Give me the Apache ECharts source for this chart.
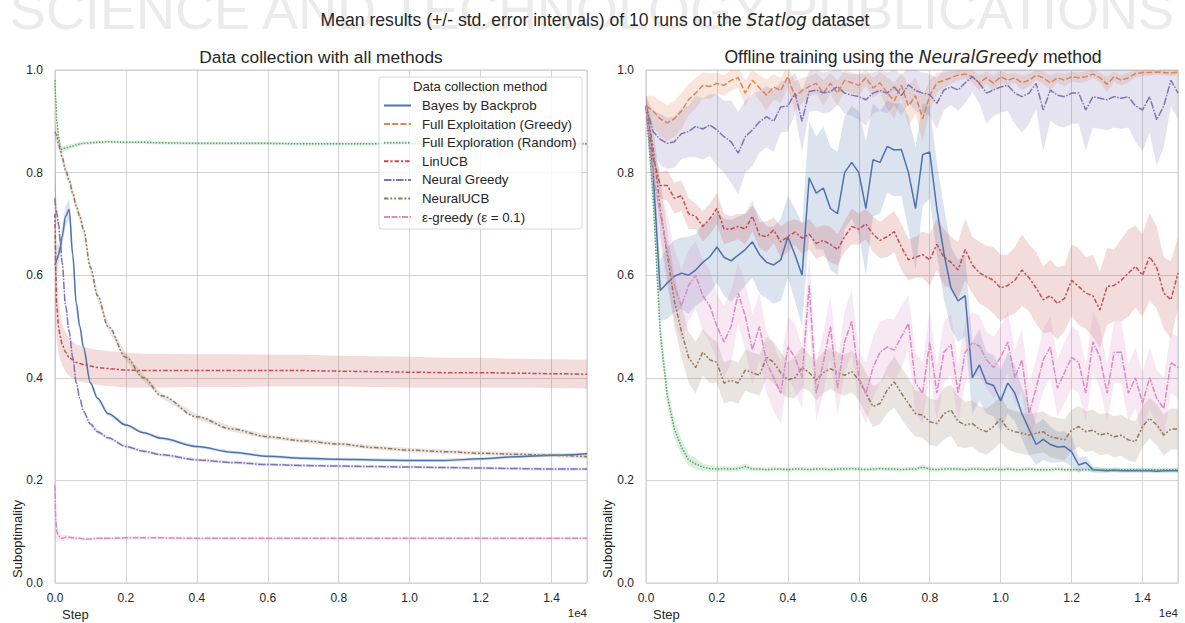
<!DOCTYPE html>
<html>
<head>
<meta charset="utf-8">
<title>Statlog suboptimality</title>
<script src="https://cdn.jsdelivr.net/npm/echarts@6/dist/echarts.min.js"></script>
<style>
  html, body { margin: 0; padding: 0; background: #ffffff; }
  #chart { width: 1185px; height: 623px; }
</style>
</head>
<body>
<div id="chart"></div>
<script>
// ---------- labels ----------
const methods = [
  'Bayes by Backprob',
  'Full Exploitation (Greedy)',
  'Full Exploration (Random)',
  'LinUCB',
  'Neural Greedy',
  'NeuralUCB',
  'ε-greedy (ε = 0.1)'
];
const yTicks = [0, 0.2, 0.4, 0.6, 0.8, 1.0];

// ---------- left panel: data collection (mean and std. error) ----------
const stepsLeft = [0, 25, 50, 100, 150, 200, 300, 400, 500, 600, 700, 800, 1000, 1200, 1500,
  2000, 2500, 3000, 4000, 5000, 6000, 7000, 8000, 9000, 10000, 11000, 12000, 13000, 14000, 15000];

const leftBayes = [0.62, 0.625, 0.63, 0.64, 0.655, 0.675, 0.715, 0.728, 0.64, 0.545, 0.50, 0.46, 0.39, 0.36, 0.33,
  0.308, 0.293, 0.282, 0.266, 0.255, 0.247, 0.243, 0.241, 0.240, 0.239, 0.239, 0.242, 0.246, 0.249, 0.252];
const leftBayesErr = [0.25, 0.08, 0.03, 0.02, 0.02, 0.02, 0.02, 0.02, 0.02, 0.015, 0.01, 0.008, 0.006, 0.005, 0.004,
  0.003, 0.003, 0.003, 0.003, 0.003, 0.003, 0.003, 0.003, 0.003, 0.003, 0.003, 0.003, 0.003, 0.003, 0.003];

const leftGreedy = [];
const leftGreedyErr = [];

const leftRandom = [0.98, 0.94, 0.90, 0.87, 0.85, 0.845, 0.848, 0.85, 0.852, 0.854, 0.856, 0.857, 0.858, 0.859, 0.86,
  0.859, 0.859, 0.858, 0.857, 0.857, 0.857, 0.856, 0.856, 0.856, 0.856, 0.856, 0.856, 0.856, 0.856, 0.856];
const leftRandomErr = [0.02, 0.02, 0.015, 0.01, 0.008, 0.006, 0.005, 0.005, 0.004, 0.004, 0.004, 0.003, 0.003, 0.003, 0.003,
  0.003, 0.003, 0.003, 0.003, 0.003, 0.003, 0.003, 0.003, 0.003, 0.003, 0.003, 0.003, 0.003, 0.003, 0.003];

const leftLinUCB = [0.72, 0.60, 0.54, 0.50, 0.48, 0.465, 0.45, 0.44, 0.435, 0.43, 0.428, 0.426, 0.423, 0.42, 0.418,
  0.415, 0.414, 0.414, 0.414, 0.414, 0.414, 0.414, 0.413, 0.412, 0.411, 0.410, 0.410, 0.409, 0.408, 0.407];
const leftLinUCBErr = [0.15, 0.10, 0.07, 0.05, 0.045, 0.04, 0.038, 0.037, 0.036, 0.035, 0.035, 0.034, 0.034, 0.034, 0.034,
  0.034, 0.033, 0.033, 0.032, 0.032, 0.031, 0.031, 0.030, 0.030, 0.030, 0.029, 0.029, 0.028, 0.028, 0.028];

const leftNeuralGreedy = [0.75, 0.73, 0.72, 0.70, 0.665, 0.625, 0.54, 0.49, 0.44, 0.39, 0.36, 0.335, 0.31, 0.295, 0.283,
  0.266, 0.257, 0.25, 0.24, 0.235, 0.231, 0.229, 0.228, 0.227, 0.226, 0.225, 0.224, 0.223, 0.222, 0.222];
const leftNeuralGreedyErr = [0.05, 0.03, 0.02, 0.01, 0.008, 0.008, 0.006, 0.006, 0.005, 0.005, 0.005, 0.004, 0.004, 0.004, 0.003,
  0.003, 0.003, 0.003, 0.003, 0.003, 0.003, 0.003, 0.003, 0.003, 0.003, 0.003, 0.003, 0.003, 0.003, 0.003];

const leftNeuralUCB = [0.88, 0.875, 0.87, 0.855, 0.845, 0.83, 0.805, 0.785, 0.76, 0.735, 0.714, 0.69, 0.615, 0.56, 0.50,
  0.44, 0.40, 0.365, 0.324, 0.30, 0.285, 0.277, 0.271, 0.264, 0.259, 0.256, 0.253, 0.251, 0.249, 0.246];
const leftNeuralUCBErr = [0.02, 0.015, 0.012, 0.01, 0.01, 0.01, 0.01, 0.01, 0.01, 0.01, 0.01, 0.01, 0.01, 0.009, 0.008,
  0.007, 0.006, 0.005, 0.005, 0.005, 0.004, 0.004, 0.004, 0.004, 0.004, 0.004, 0.004, 0.004, 0.004, 0.004];

const leftEpsGreedy = [0.19, 0.12, 0.10, 0.092, 0.088, 0.087, 0.089, 0.089, 0.088, 0.087, 0.087, 0.086, 0.086, 0.087, 0.087,
  0.088, 0.088, 0.088, 0.087, 0.087, 0.087, 0.087, 0.087, 0.087, 0.087, 0.087, 0.087, 0.087, 0.087, 0.087];
const leftEpsGreedyErr = [0.10, 0.04, 0.02, 0.01, 0.008, 0.006, 0.005, 0.004, 0.004, 0.003, 0.003, 0.003, 0.003, 0.003, 0.003,
  0.003, 0.003, 0.003, 0.003, 0.003, 0.003, 0.003, 0.003, 0.003, 0.003, 0.003, 0.003, 0.003, 0.003, 0.003];

// ---------- right panel: offline NeuralGreedy training (mean and std. error) ----------
const stepsRight = [
  0, 200, 400, 600, 800, 1000, 1200, 1400, 1600, 1800, 2000, 2200, 2400, 2600, 2800,
  3000, 3200, 3400, 3600, 3800, 4000, 4200, 4400, 4600, 4800, 5000, 5200, 5400, 5600, 5800,
  6000, 6200, 6400, 6600, 6800, 7000, 7200, 7400, 7600, 7800, 8000, 8200, 8400, 8600, 8800,
  9000, 9200, 9400, 9600, 9800, 10000, 10200, 10400, 10600, 10800, 11000, 11200, 11400, 11600, 11800,
  12000, 12200, 12400, 12600, 12800, 13000, 13200, 13400, 13600, 13800, 14000, 14200, 14400, 14600, 14800,
  15000];

const rightBayes = [
  0.93, 0.80, 0.57, 0.585, 0.598, 0.604, 0.60, 0.61, 0.625, 0.636, 0.655, 0.635, 0.628, 0.639, 0.65,
  0.665, 0.64, 0.625, 0.62, 0.63, 0.675, 0.64, 0.60, 0.79, 0.76, 0.77, 0.73, 0.72, 0.80, 0.82,
  0.80, 0.73, 0.825, 0.82, 0.851, 0.844, 0.845, 0.80, 0.73, 0.835, 0.84, 0.73, 0.643, 0.575, 0.55,
  0.56, 0.40, 0.425, 0.39, 0.385, 0.355, 0.39, 0.37, 0.33, 0.30, 0.27, 0.28, 0.27, 0.265, 0.266,
  0.256, 0.23, 0.235, 0.221, 0.22, 0.219, 0.22, 0.219, 0.219, 0.219, 0.219, 0.219, 0.218, 0.219, 0.219,
  0.219];
const rightBayesErr = [
  0.02, 0.05, 0.06, 0.07, 0.07, 0.07, 0.075, 0.07, 0.075, 0.07, 0.07, 0.075, 0.08, 0.075, 0.07,
  0.07, 0.075, 0.07, 0.075, 0.08, 0.08, 0.09, 0.10, 0.11, 0.11, 0.12, 0.12, 0.12, 0.11, 0.11,
  0.12, 0.13, 0.11, 0.10, 0.09, 0.09, 0.09, 0.11, 0.12, 0.10, 0.09, 0.09, 0.09, 0.08, 0.08,
  0.08, 0.07, 0.07, 0.06, 0.06, 0.06, 0.06, 0.055, 0.05, 0.05, 0.04, 0.04, 0.035, 0.03, 0.03,
  0.03, 0.015, 0.012, 0.006, 0.005, 0.004, 0.004, 0.004, 0.004, 0.004, 0.004, 0.004, 0.004, 0.004, 0.004,
  0.004];

const rightGreedy = [
  0.93, 0.92, 0.905, 0.897, 0.905, 0.92, 0.942, 0.955, 0.97, 0.968, 0.974, 0.97, 0.98, 0.985, 0.955,
  0.98, 0.965, 0.951, 0.967, 0.96, 0.987, 0.948, 0.96, 0.968, 0.974, 0.955, 0.974, 0.955, 0.98, 0.975,
  0.97, 0.985, 0.965, 0.975, 0.955, 0.94, 0.97, 0.93, 0.95, 0.905, 0.95, 0.975, 0.98, 0.985, 0.99,
  0.992, 0.987, 0.975, 0.985, 0.974, 0.987, 0.98, 0.985, 0.975, 0.98, 0.99, 0.985, 0.975, 0.985, 0.98,
  0.987, 0.985, 0.987, 0.992, 0.985, 0.972, 0.987, 0.98, 0.985, 0.993, 0.995, 0.995, 0.996, 0.995, 0.994,
  0.996];
const rightGreedyErr = [
  0.02, 0.03, 0.035, 0.035, 0.035, 0.035, 0.03, 0.03, 0.025, 0.025, 0.02, 0.02, 0.02, 0.02, 0.025,
  0.02, 0.025, 0.03, 0.025, 0.025, 0.02, 0.03, 0.025, 0.02, 0.02, 0.025, 0.02, 0.025, 0.02, 0.02,
  0.02, 0.015, 0.02, 0.02, 0.03, 0.035, 0.025, 0.04, 0.035, 0.045, 0.03, 0.02, 0.015, 0.012, 0.01,
  0.01, 0.012, 0.015, 0.012, 0.015, 0.012, 0.012, 0.01, 0.015, 0.012, 0.01, 0.012, 0.015, 0.01, 0.012,
  0.01, 0.01, 0.01, 0.008, 0.01, 0.015, 0.01, 0.01, 0.01, 0.008, 0.006, 0.006, 0.005, 0.005, 0.006,
  0.005];

const rightRandom = [
  0.93, 0.75, 0.49, 0.365, 0.30, 0.265, 0.24, 0.232, 0.226, 0.223, 0.222, 0.223, 0.222, 0.223, 0.227,
  0.222, 0.222, 0.221, 0.222, 0.222, 0.221, 0.222, 0.222, 0.221, 0.222, 0.222, 0.221, 0.222, 0.222, 0.223,
  0.222, 0.221, 0.222, 0.223, 0.222, 0.222, 0.221, 0.222, 0.222, 0.226, 0.222, 0.221, 0.222, 0.222, 0.222,
  0.221, 0.222, 0.222, 0.221, 0.222, 0.221, 0.222, 0.221, 0.221, 0.222, 0.221, 0.221, 0.221, 0.222, 0.221,
  0.221, 0.221, 0.221, 0.221, 0.221, 0.221, 0.221, 0.221, 0.221, 0.221, 0.221, 0.221, 0.221, 0.221, 0.221,
  0.221];
const rightRandomErr = [
  0.01, 0.02, 0.025, 0.02, 0.018, 0.015, 0.012, 0.01, 0.008, 0.006, 0.005, 0.005, 0.005, 0.005, 0.006,
  0.004, 0.004, 0.004, 0.004, 0.004, 0.004, 0.004, 0.004, 0.004, 0.004, 0.004, 0.004, 0.004, 0.004, 0.004,
  0.004, 0.004, 0.004, 0.004, 0.004, 0.004, 0.004, 0.004, 0.004, 0.005, 0.004, 0.004, 0.004, 0.004, 0.004,
  0.004, 0.004, 0.004, 0.004, 0.004, 0.004, 0.004, 0.004, 0.004, 0.004, 0.004, 0.004, 0.004, 0.004, 0.004,
  0.004, 0.004, 0.004, 0.004, 0.004, 0.004, 0.004, 0.004, 0.004, 0.004, 0.004, 0.004, 0.004, 0.004, 0.004,
  0.004];

const rightLinUCB = [
  0.93, 0.83, 0.775, 0.775, 0.75, 0.755, 0.72, 0.715, 0.695, 0.71, 0.73, 0.69, 0.69, 0.695, 0.69,
  0.715, 0.678, 0.675, 0.688, 0.665, 0.675, 0.684, 0.672, 0.68, 0.662, 0.668, 0.66, 0.65, 0.675, 0.695,
  0.69, 0.70, 0.68, 0.668, 0.675, 0.685, 0.655, 0.63, 0.635, 0.64, 0.63, 0.66, 0.635, 0.625, 0.61,
  0.65, 0.62, 0.605, 0.597, 0.59, 0.575, 0.58, 0.59, 0.61, 0.595, 0.575, 0.552, 0.56, 0.545, 0.555,
  0.59, 0.578, 0.565, 0.56, 0.532, 0.578, 0.58, 0.59, 0.604, 0.617, 0.60, 0.636, 0.615, 0.565, 0.552,
  0.604];
const rightLinUCBErr = [
  0.01, 0.02, 0.025, 0.03, 0.03, 0.03, 0.03, 0.025, 0.03, 0.03, 0.03, 0.03, 0.025, 0.025, 0.03,
  0.03, 0.025, 0.03, 0.025, 0.03, 0.03, 0.025, 0.03, 0.03, 0.03, 0.03, 0.035, 0.03, 0.03, 0.035,
  0.03, 0.03, 0.035, 0.035, 0.04, 0.04, 0.045, 0.04, 0.04, 0.045, 0.05, 0.05, 0.055, 0.05, 0.055,
  0.06, 0.055, 0.06, 0.06, 0.065, 0.065, 0.06, 0.065, 0.07, 0.065, 0.07, 0.065, 0.07, 0.07, 0.065,
  0.07, 0.075, 0.07, 0.08, 0.075, 0.075, 0.07, 0.08, 0.085, 0.08, 0.08, 0.085, 0.08, 0.07, 0.075,
  0.07];

const rightNeuralGreedy = [
  0.93, 0.88, 0.865, 0.857, 0.86, 0.876, 0.88, 0.89, 0.885, 0.893, 0.883, 0.87, 0.86, 0.838, 0.87,
  0.883, 0.899, 0.909, 0.90, 0.928, 0.93, 0.955, 0.90, 0.958, 0.961, 0.955, 0.958, 0.9675, 0.955, 0.951,
  0.948, 0.942, 0.955, 0.96, 0.955, 0.967, 0.95, 0.971, 0.96, 0.955, 0.952, 0.935, 0.961, 0.967, 0.961,
  0.975, 0.987, 0.974, 0.955, 0.961, 0.967, 0.97, 0.955, 0.948, 0.955, 0.974, 0.922, 0.961, 0.951, 0.948,
  0.955, 0.955, 0.922, 0.948, 0.945, 0.942, 0.948, 0.945, 0.948, 0.93, 0.922, 0.948, 0.903, 0.93, 0.98,
  0.955];
const rightNeuralGreedyErr = [
  0.02, 0.04, 0.05, 0.05, 0.05, 0.05, 0.05, 0.06, 0.06, 0.06, 0.07, 0.07, 0.08, 0.08, 0.07,
  0.07, 0.06, 0.06, 0.06, 0.05, 0.05, 0.04, 0.06, 0.04, 0.04, 0.04, 0.04, 0.035, 0.04, 0.04,
  0.045, 0.05, 0.04, 0.04, 0.04, 0.035, 0.04, 0.035, 0.04, 0.04, 0.04, 0.05, 0.04, 0.035, 0.04,
  0.04, 0.03, 0.04, 0.06, 0.05, 0.05, 0.05, 0.06, 0.07, 0.06, 0.05, 0.08, 0.06, 0.06, 0.06,
  0.06, 0.06, 0.08, 0.06, 0.06, 0.06, 0.06, 0.06, 0.06, 0.07, 0.08, 0.07, 0.09, 0.08, 0.05,
  0.05];

const rightNeuralUCB = [
  0.93, 0.85, 0.73, 0.64, 0.55, 0.49, 0.44, 0.42, 0.45, 0.435, 0.43, 0.39, 0.395, 0.39, 0.415,
  0.41, 0.405, 0.44, 0.43, 0.41, 0.396, 0.40, 0.42, 0.41, 0.396, 0.41, 0.418, 0.41, 0.405, 0.412,
  0.396, 0.37, 0.344, 0.35, 0.376, 0.392, 0.37, 0.35, 0.33, 0.3275, 0.3145, 0.311, 0.33, 0.337, 0.315,
  0.308, 0.311, 0.30, 0.295, 0.305, 0.32, 0.30, 0.295, 0.292, 0.2885, 0.292, 0.295, 0.285, 0.282, 0.279,
  0.298, 0.305, 0.295, 0.298, 0.2885, 0.292, 0.285, 0.288, 0.279, 0.2755, 0.305, 0.321, 0.308, 0.2885, 0.30,
  0.30];
const rightNeuralUCBErr = [
  0.02, 0.04, 0.05, 0.05, 0.05, 0.05, 0.05, 0.05, 0.045, 0.045, 0.04, 0.04, 0.04, 0.04, 0.04,
  0.04, 0.04, 0.04, 0.04, 0.04, 0.035, 0.04, 0.04, 0.035, 0.04, 0.04, 0.04, 0.04, 0.04, 0.04,
  0.04, 0.04, 0.04, 0.04, 0.045, 0.05, 0.05, 0.05, 0.045, 0.045, 0.045, 0.045, 0.05, 0.05, 0.05,
  0.045, 0.045, 0.045, 0.045, 0.045, 0.045, 0.04, 0.04, 0.04, 0.04, 0.04, 0.04, 0.04, 0.04, 0.04,
  0.04, 0.04, 0.04, 0.04, 0.04, 0.04, 0.04, 0.04, 0.04, 0.04, 0.04, 0.04, 0.04, 0.04, 0.04,
  0.04];

const rightEpsGreedy = [
  0.93, 0.80, 0.72, 0.65, 0.58, 0.54, 0.58, 0.60, 0.56, 0.54, 0.50, 0.47, 0.50, 0.565, 0.52,
  0.455, 0.50, 0.43, 0.40, 0.37, 0.46, 0.44, 0.40, 0.58, 0.37, 0.43, 0.50, 0.38, 0.47, 0.51,
  0.40, 0.37, 0.42, 0.45, 0.46, 0.454, 0.48, 0.506, 0.39, 0.37, 0.47, 0.37, 0.45, 0.465, 0.37,
  0.45, 0.468, 0.462, 0.435, 0.42, 0.44, 0.47, 0.40, 0.435, 0.33, 0.38, 0.435, 0.46, 0.38, 0.41,
  0.44, 0.43, 0.37, 0.47, 0.44, 0.37, 0.45, 0.45, 0.37, 0.40, 0.35, 0.40, 0.36, 0.34, 0.43,
  0.42];
const rightEpsGreedyErr = [
  0.02, 0.05, 0.06, 0.07, 0.07, 0.07, 0.07, 0.065, 0.07, 0.07, 0.065, 0.07, 0.07, 0.06, 0.065,
  0.07, 0.065, 0.06, 0.065, 0.06, 0.06, 0.065, 0.06, 0.06, 0.055, 0.06, 0.06, 0.055, 0.06, 0.06,
  0.055, 0.06, 0.06, 0.06, 0.055, 0.06, 0.06, 0.055, 0.06, 0.06, 0.06, 0.055, 0.06, 0.06, 0.055,
  0.06, 0.06, 0.06, 0.055, 0.06, 0.06, 0.06, 0.055, 0.06, 0.06, 0.055, 0.06, 0.06, 0.055, 0.06,
  0.06, 0.06, 0.055, 0.06, 0.06, 0.055, 0.06, 0.06, 0.055, 0.06, 0.06, 0.06, 0.055, 0.06, 0.06,
  0.06];

// ---------- styling ----------
const palette = ['#4c72b0', '#dd8452', '#55a868', '#c44e52', '#8172b3', '#937860', '#da8bc3'];
const dashPatterns = [
  'solid',
  [6, 2.25],
  [1.5, 1.5],
  [4.5, 1.9, 2.25, 1.9],
  [7.5, 1.5, 1.5, 1.5],
  [4.5, 1.9, 1.9, 1.9, 1.9, 1.9],
  [6, 1.5, 6, 1.5, 1.5, 1.5]
];
const FONT = '"Liberation Sans", Arial, "DejaVu Sans", sans-serif';
const TEXT = '#262626';
const GRID_LINE = '#d3d3d3';

const leftSets = [
  [leftBayes, leftBayesErr], [leftGreedy, leftGreedyErr], [leftRandom, leftRandomErr],
  [leftLinUCB, leftLinUCBErr], [leftNeuralGreedy, leftNeuralGreedyErr],
  [leftNeuralUCB, leftNeuralUCBErr], [leftEpsGreedy, leftEpsGreedyErr]
];
const rightSets = [
  [rightBayes, rightBayesErr], [rightGreedy, rightGreedyErr], [rightRandom, rightRandomErr],
  [rightLinUCB, rightLinUCBErr], [rightNeuralGreedy, rightNeuralGreedyErr],
  [rightNeuralUCB, rightNeuralUCBErr], [rightEpsGreedy, rightEpsGreedyErr]
];

function withAlpha(hex, a) {
  const n = parseInt(hex.slice(1), 16);
  return 'rgba(' + ((n >> 16) & 255) + ',' + ((n >> 8) & 255) + ',' + (n & 255) + ',' + a + ')';
}

// Shaded error band: one polygon through (x, mean+err) and back along (x, mean-err)
function bandSeries(steps, mean, err, color, axisIdx, name) {
  const rows = mean.map((m, i) => [steps[i], m - err[i], m + err[i]]);
  return {
    type: 'custom',
    name: name,
    xAxisIndex: axisIdx,
    yAxisIndex: axisIdx,
    silent: true,
    clip: true,
    encode: { x: 0, y: [1, 2] },
    data: rows,
    renderItem: function (params, api) {
      if (params.dataIndex !== 0) return null;
      const upper = rows.map(r => api.coord([r[0], r[2]]));
      const lower = rows.map(r => api.coord([r[0], r[1]])).reverse();
      return {
        type: 'polygon',
        shape: { points: upper.concat(lower) },
        style: { fill: withAlpha(color, 0.2), stroke: 'none' }
      };
    }
  };
}

function lineSeries(steps, mean, k, axisIdx, smooth) {
  return {
    type: 'line',
    name: methods[k],
    xAxisIndex: axisIdx,
    yAxisIndex: axisIdx,
    data: mean.map((m, i) => [steps[i], m]),
    showSymbol: false,
    symbol: 'none',
    smooth: smooth ? 0.35 : false,
    smoothMonotone: smooth ? 'x' : undefined,
    clip: true,
    silent: true,
    lineStyle: { color: palette[k], width: 1.5, type: dashPatterns[k], cap: 'butt' },
    itemStyle: { color: palette[k] }
  };
}

const series = [];
leftSets.forEach((s, k) => {
  series.push(bandSeries(stepsLeft, s[0], s[1], palette[k], 0, 'band-left-' + k));
  series.push(lineSeries(stepsLeft, s[0], k, 0, true));
});
rightSets.forEach((s, k) => {
  series.push(bandSeries(stepsRight, s[0], s[1], palette[k], 1, 'band-right-' + k));
  series.push(lineSeries(stepsRight, s[0], k, 1, false));
});

function xAxisFor(gridIndex) {
  return {
    type: 'value', gridIndex: gridIndex, min: 0, max: 15000, interval: 2000,
    axisLine: { show: false }, axisTick: { show: false },
    splitLine: { show: true, lineStyle: { color: GRID_LINE, width: 1 } },
    axisLabel: {
      margin: 9, color: TEXT, fontSize: 12, fontFamily: FONT, showMaxLabel: false,
      formatter: v => (v / 10000).toFixed(1)
    }
  };
}
function yAxisFor(gridIndex) {
  return {
    type: 'value', gridIndex: gridIndex, min: yTicks[0], max: yTicks[yTicks.length - 1], interval: 0.2,
    axisLine: { show: false }, axisTick: { show: false },
    splitLine: { show: true, lineStyle: { color: GRID_LINE, width: 1 } },
    axisLabel: {
      margin: 12, color: TEXT, fontSize: 12, fontFamily: FONT,
      formatter: v => v.toFixed(1)
    }
  };
}

const chart = echarts.init(document.getElementById('chart'), null, { renderer: 'svg' });

chart.setOption({
  backgroundColor: '#ffffff',
  animation: false,
  grid: [
    { left: 55, top: 70, width: 532, height: 513, show: true, borderColor: '#cccccc', borderWidth: 1, backgroundColor: 'transparent' },
    { left: 646, top: 70, width: 532, height: 513, show: true, borderColor: '#cccccc', borderWidth: 1, backgroundColor: 'transparent' }
  ],
  xAxis: [xAxisFor(0), xAxisFor(1)],
  yAxis: [yAxisFor(0), yAxisFor(1)],
  legend: {
    data: methods,
    orient: 'vertical',
    left: 383,
    top: 99,
    padding: 0,
    itemWidth: 27,
    itemHeight: 14,
    itemGap: 5.6,
    selectedMode: false,
    z: 12,
    itemStyle: { opacity: 0 },
    textStyle: { fontSize: 13.3, color: TEXT, fontFamily: FONT, padding: [0, 0, 0, 6] }
  },
  graphic: [
    {
      type: 'text', x: 592, y: 10, z: 0, silent: true,
      style: {
        text: 'SCIENCE AND TECHNOLOGY PUBLICATIONS',
        fill: '#ebebeb', font: '54px ' + FONT, align: 'center', verticalAlign: 'middle'
      }
    },
    {
      type: 'text', x: 595, y: 20, z: 5, silent: true,
      style: {
        text: 'Mean results (+/- std. error intervals) of 10 runs on the {i|Statlog} dataset',
        fill: TEXT, font: '17.6px ' + FONT, align: 'center', verticalAlign: 'middle',
        rich: { i: { fontStyle: 'italic', fontFamily: '"DejaVu Sans", sans-serif', fontSize: 17, fill: TEXT } }
      }
    },
    {
      type: 'text', x: 321, y: 57, z: 5, silent: true,
      style: {
        text: 'Data collection with all methods',
        fill: TEXT, font: '17.4px ' + FONT, align: 'center', verticalAlign: 'middle'
      }
    },
    {
      type: 'text', x: 913, y: 57, z: 5, silent: true,
      style: {
        text: 'Offline training using the {i|NeuralGreedy} method',
        fill: TEXT, font: '17.6px ' + FONT, align: 'center', verticalAlign: 'middle',
        rich: { i: { fontStyle: 'italic', fontFamily: '"DejaVu Sans", sans-serif', fontSize: 17.2, fill: TEXT } }
      }
    },
    {
      type: 'rect', z: 10, silent: true,
      shape: { x: 379, y: 77, width: 203, height: 152, r: 3 },
      style: { fill: 'rgba(255,255,255,0.8)', stroke: '#d6d6d6', lineWidth: 1 }
    },
    {
      type: 'text', x: 480, y: 86.5, z: 12, silent: true,
      style: {
        text: 'Data collection method',
        fill: TEXT, font: '13.2px ' + FONT, align: 'center', verticalAlign: 'middle'
      }
    },
    { type: 'text', x: 62, y: 614, z: 5, silent: true,
      style: { text: 'Step', fill: TEXT, font: '13px ' + FONT, align: 'left', verticalAlign: 'middle' } },
    { type: 'text', x: 653, y: 614, z: 5, silent: true,
      style: { text: 'Step', fill: TEXT, font: '13px ' + FONT, align: 'left', verticalAlign: 'middle' } },
    { type: 'text', x: 587, y: 613, z: 5, silent: true,
      style: { text: '1e4', fill: TEXT, font: '11.5px ' + FONT, align: 'right', verticalAlign: 'middle' } },
    { type: 'text', x: 1178, y: 613, z: 5, silent: true,
      style: { text: '1e4', fill: TEXT, font: '11.5px ' + FONT, align: 'right', verticalAlign: 'middle' } },
    { type: 'text', x: 17.5, y: 578, rotation: Math.PI / 2, z: 5, silent: true,
      style: { text: 'Suboptimality', fill: TEXT, font: '13px ' + FONT, align: 'left', verticalAlign: 'middle' } },
    { type: 'text', x: 607.5, y: 578, rotation: Math.PI / 2, z: 5, silent: true,
      style: { text: 'Suboptimality', fill: TEXT, font: '13px ' + FONT, align: 'left', verticalAlign: 'middle' } }
  ],
  series: series
});
</script>
</body>
</html>
